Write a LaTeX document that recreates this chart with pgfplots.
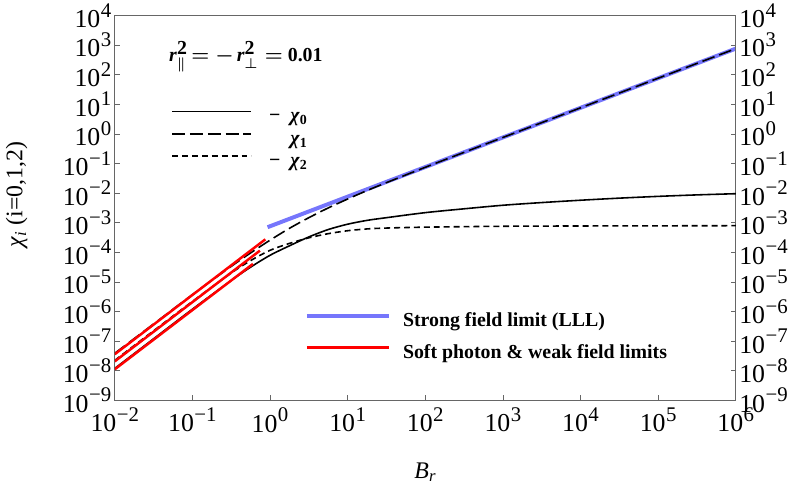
\documentclass[border=0pt]{standalone}
\usepackage{fontspec}
\setmainfont{Liberation Serif}
\usepackage{pgfplots}
\pgfplotsset{compat=1.18}

\definecolor{lll}{RGB}{118,118,252}
\newcommand{\tl}[1]{10\kern0.5pt\raisebox{0.4em}{\fontsize{21}{21}\selectfont#1}}
\newcommand{\tr}[1]{\tl{#1}\kern8pt}

\pgfplotsset{
  chiaxis/.style={
    scale only axis, width=626pt, height=388pt,
    xmin=1e-2, xmax=1e6, ymin=1e-9, ymax=1e4,
    xtick={1e-2,1e-1,1,1e1,1e2,1e3,1e4,1e5,1e6},
    xticklabels={\tl{−2},\tl{−1},\tl{0},\tl{1},\tl{2},\tl{3},\tl{4},\tl{5},\tl{6}},
    ytick={1e-9,1e-8,1e-7,1e-6,1e-5,1e-4,1e-3,1e-2,1e-1,1,1e1,1e2,1e3,1e4},
    yticklabels={\tl{−9},\tl{−8},\tl{−7},\tl{−6},\tl{−5},\tl{−4},\tl{−3},\tl{−2},\tl{−1},\tl{0},\tl{1},\tl{2},\tl{3},\tl{4}},
    xminorticks=false, yminorticks=false,
    tick align=inside, major tick length=5pt,
    axis line style={black!60, line width=0.7pt},
    tick style={black!60, line width=0.7pt},
    tick label style={font=\fontsize{26}{26}\selectfont},
    xticklabel style={yshift=-4pt},
  },
}

\begin{document}
\begin{tikzpicture}

% frame, left labels, strong field limit (drawn below the curves)
\begin{loglogaxis}[
  chiaxis,
  xtick pos=bottom, ytick pos=both, yticklabel pos=left,
  xlabel={\textit{B}\textsubscript{\textit{r}}},
  ylabel={\textit{χ}\textsubscript{\textit{i}} (i=0,1,2)},
  label style={font=\fontsize{24}{24}\selectfont},
  xlabel style={at={(rel axis cs:0.5,0)}, anchor=north, yshift=-59pt},
  ylabel style={at={(ticklabel cs:0.535,26pt)}, inner sep=6pt},
]
\addplot[lll, line width=4pt] coordinates {(0.93,7.06e-4) (1e6,759)};

\node[anchor=base west, inner sep=0pt, font=\fontsize{20}{20}\selectfont\bfseries\boldmath]
  at (axis cs:0.05,273)
  {\textit{r}$^{\textbf{2}}_{\parallel}$\kern4pt$=$\kern6pt$-$\kern3pt\textit{r}$^{\textbf{2}}_{\perp}$\kern7pt$=$\kern5pt0.01};
\end{loglogaxis}

% curves chi_0, chi_1, chi_2 and right labels
\begin{loglogaxis}[
  chiaxis,
  hide x axis, axis y line*=right,
  ytick pos=right, yticklabel pos=right,
  yticklabels={\tr{−9},\tr{−8},\tr{−7},\tr{−6},\tr{−5},\tr{−4},\tr{−3},\tr{−2},\tr{−1},\tr{0},\tr{1},\tr{2},\tr{3},\tr{4}},
  legend image code/.code={\draw[#1] (0pt,5.5pt) -- (80pt,5.5pt); \path (97pt,5.5pt);},
  legend style={draw=none, fill=none, inner sep=0pt, outer sep=0pt,
    at={(rel axis cs:0.091,0.760)}, anchor=north west,
    font=\fontsize{20}{20}\selectfont\bfseries,
    nodes={inner sep=0pt, text height=14pt, text depth=4.5pt},
    row sep=4pt},
  legend cell align=left,
]
\addplot[black, line width=1.6pt, smooth] coordinates {
  (0.01,1.20e-8) (0.0316228,1.20e-7) (0.1,1.20e-6) (0.316228,1.12e-5)
  (0.562341,3.16e-5) (1,7.94e-5) (1.778279,1.66e-4) (3.162278,3.31e-4)
  (5.623413,5.89e-4) (10,8.91e-4) (17.78279,1.20e-3) (31.62278,1.48e-3)
  (100,2.19e-3) (316.2278,2.95e-3) (1000,3.89e-3) (3162.278,4.79e-3)
  (1e4,5.75e-3) (31622.78,6.76e-3) (1e5,7.76e-3) (316227.8,8.71e-3) (1e6,9.55e-3)
};
\addlegendentry{−\enspace\textit{χ}\textsubscript{0}}
\addplot[black, line width=1.6pt, smooth, dash pattern=on 13pt off 5pt] coordinates {
  (0.01,3.89e-8) (0.0316228,3.80e-7) (0.1,3.72e-6) (0.316228,3.35e-5)
  (0.562341,9.55e-5) (1,2.57e-4) (1.778279,6.46e-4) (3.162278,1.48e-3)
  (5.623413,3.16e-3) (10,6.31e-3) (17.78279,1.22e-2) (31.62278,2.26e-2)
  (100,7.45e-2) (316.2278,0.238) (1000,0.757) (1e4,7.59) (1e5,75.9) (1e6,759)
};
\addlegendentry{\phantom{−}\enspace\textit{χ}\textsubscript{1}}
\addplot[black, line width=1.6pt, smooth, dash pattern=on 6pt off 4pt] coordinates {
  (0.01,2.24e-8) (0.0316228,2.24e-7) (0.1,2.19e-6) (0.316228,2.00e-5)
  (0.562341,5.25e-5) (1,1.17e-4) (1.778279,2.00e-4) (3.162278,3.09e-4)
  (5.623413,4.27e-4) (10,5.37e-4) (17.78279,6.17e-4) (31.62278,6.61e-4)
  (100,7.08e-4) (1000,7.59e-4) (1e4,7.76e-4) (1e6,7.94e-4)
};
\addlegendentry{−\enspace\textit{χ}\textsubscript{2}}
\end{loglogaxis}

% soft photon & weak field limits (drawn on top) and the lower legend
\begin{loglogaxis}[
  chiaxis,
  hide x axis, hide y axis,
  legend image code/.code={\draw[#1] (0pt,6pt) -- (83pt,6pt); \path (95pt,6pt);},
  legend style={draw=none, fill=none, inner sep=0pt, outer sep=0pt,
    at={(rel axis cs:0.306,0.230)}, anchor=north west,
    font=\fontsize{20}{20}\selectfont\bfseries,
    nodes={inner sep=0pt, text height=15pt, text depth=5pt},
    row sep=12pt},
  legend cell align=left,
]
\addlegendimage{lll, line width=4pt}
\addlegendentry{Strong field limit (LLL)}
\addplot[red, line width=2.5pt] coordinates {(0.01,3.62e-8) (0.871,2.75e-4)};
\addlegendentry{Soft photon \& weak field limits}
\addplot[red, line width=2.5pt, forget plot] coordinates {(0.01,2.08e-8) (0.741,1.14e-4)};
\addplot[red, line width=2.5pt, forget plot] coordinates {(0.01,1.12e-8) (0.603,4.07e-5)};
\end{loglogaxis}

\end{tikzpicture}
\end{document}
